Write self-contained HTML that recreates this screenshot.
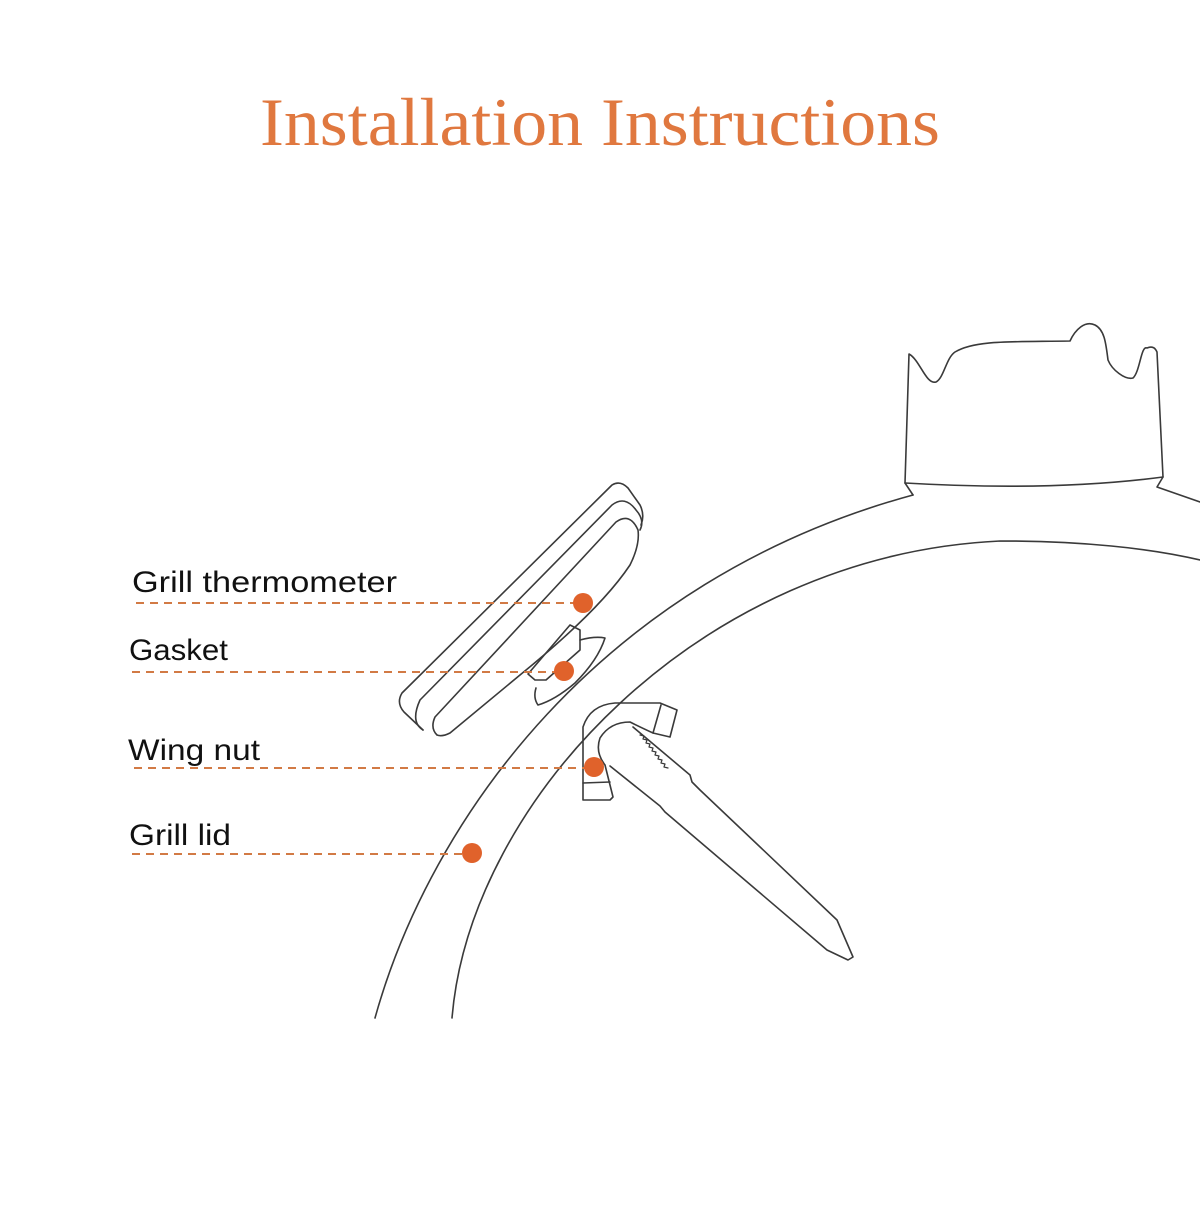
<!DOCTYPE html>
<html><head><style>html,body{margin:0;padding:0;background:#fff}</style></head>
<body>
<svg width="1200" height="1200" viewBox="0 0 1200 1200" xmlns="http://www.w3.org/2000/svg">
<rect width="1200" height="1200" fill="#fff"/>
<text x="600" y="145" text-anchor="middle" font-family="Liberation Serif, serif" font-size="68" fill="#e0783f" textLength="680" lengthAdjust="spacingAndGlyphs">Installation Instructions</text>
<g fill="none" stroke="#3a3a3a" stroke-width="1.6" stroke-linejoin="round" stroke-linecap="round">
<!-- lid -->
<path d="M375,1018 C430,820 600,580 913,495"/>
<path d="M913,495 L905,483 C990,488 1080,488 1163,477 L1157,487 L1200,502"/>
<path d="M452,1018 C470,800 700,555 1000,541 C1080,541 1150,548 1200,560"/>
<!-- handle -->
<path d="M905,483 L909,354 C920,360 926,385 936,382 C944,378 946,358 955,352 C975,340 1010,342 1070,341 C1075,330 1085,320 1095,325 C1105,330 1106,345 1108,360 C1112,370 1125,380 1133,378 C1140,372 1141,345 1147,348 C1154,345 1156,350 1157,352 L1163,477"/>
<!-- thermometer dial -->
<path d="M423,730 L404,712 Q396,703 402,693 L612,485 Q620,480 628,488 L640,505 Q645,515 641,525"/>
<path d="M423,730 Q410,722 420,700 L612,505 Q625,495 636,510 Q645,520 640,530"/>
<path d="M437,735 Q430,728 435,717 L616,522 Q630,512 638,530 Q640,545 630,565 Q600,610 520,675 L450,733 Q442,737 437,735"/>
<!-- gasket / neck -->
<path d="M528,674 L570,625 L580,630 L580,650 L546,680 L535,680 Z"/>
<path d="M580,640 Q595,636 605,638 Q598,660 575,683 Q555,700 538,705 Q533,698 536,688"/>
<!-- wing nut -->
<path d="M583,800 L583,727 Q590,705 615,703 L660,703 L677,710 L670,737 L653,733 Q640,727 630,722 Q610,722 600,738 Q595,752 605,765 L613,797 L610,800 Z"/>
<path d="M583,783 L610,782"/>
<path d="M653,733 L661,705"/>
<!-- probe -->
<path d="M633,727 L690,775 L692,782 L700,790 L837,920 L853,957 L848,960 L827,950 L665,812 L660,806 L610,766"/>
<path d="M640,735 l4,1 -1,3 4,1 -1,3 4,1 -1,3 4,1 -1,3 4,1 -1,3 4,1 -1,3 4,1 -1,3 4,1 -1,3 4,1" stroke-width="1.2"/>
</g>
<g stroke="#d27a45" stroke-width="2" stroke-dasharray="8,6" fill="none">
<line x1="136" y1="603" x2="583" y2="603"/>
<line x1="132" y1="672" x2="564" y2="672"/>
<line x1="134" y1="768" x2="594" y2="768"/>
<line x1="132" y1="854" x2="472" y2="854"/>
</g>
<g fill="#e0622b">
<circle cx="583" cy="603" r="10"/>
<circle cx="564" cy="671" r="10"/>
<circle cx="594" cy="767" r="10"/>
<circle cx="472" cy="853" r="10"/>
</g>
<g font-family="Liberation Sans, sans-serif" font-size="30" fill="#111">
<text x="132" y="592" textLength="265" lengthAdjust="spacingAndGlyphs">Grill thermometer</text>
<text x="129" y="660" textLength="99" lengthAdjust="spacingAndGlyphs">Gasket</text>
<text x="128" y="760" textLength="132" lengthAdjust="spacingAndGlyphs">Wing nut</text>
<text x="129" y="845" textLength="102" lengthAdjust="spacingAndGlyphs">Grill lid</text>
</g>
</svg>
</body></html>
